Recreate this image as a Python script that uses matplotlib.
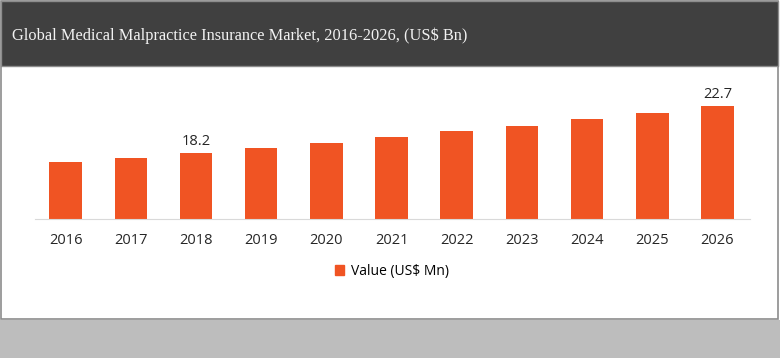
import matplotlib.pyplot as plt
from matplotlib.patches import Rectangle, Patch

# значения рынка по годам (US$ Bn)
years = ['2016', '2017', '2018', '2019', '2020', '2021', '2022', '2023', '2024', '2025', '2026']
values = [17.34, 17.72, 18.2, 18.65, 19.15, 19.73, 20.3, 20.78, 21.42, 22.03, 22.7]
labeled = {'2018': '18.2', '2026': '22.7'}

bar_color = '#F05423'

fig = plt.figure(figsize=(7.8, 3.58), dpi=100)

# рамка, шапка и нижняя полоса
fig.patches.append(Rectangle((0.0, 0.0), 1.0, 0.106, transform=fig.transFigure,
                             facecolor='#bdbdbd', edgecolor='none', zorder=0))
fig.patches.append(Rectangle((0.0015, 0.109), 0.996, 0.888, transform=fig.transFigure,
                             facecolor='white', edgecolor='#8c8c8c', lw=1.2, zorder=0))
fig.patches.append(Rectangle((0.0015, 0.8156), 0.996, 0.1814, transform=fig.transFigure,
                             facecolor='#404040', edgecolor='#8c8c8c', lw=1.0, zorder=1))
fig.text(12 / 780, 1 - 36 / 358, 'Global Medical Malpractice Insurance Market, 2016-2026, (US$ Bn)',
         family='Liberation Serif', fontsize=11.8, color='#f2f2f2', va='center', ha='left')

ax = fig.add_axes([35 / 780, 1 - 219 / 358, 715 / 780, 139 / 358])
ax.set_zorder(3)
ax.patch.set_alpha(0)
x = range(len(years))
bars = ax.bar(x, values, width=0.5, color=bar_color, zorder=2)
ax.set_xlim(-0.47, 10.5)
ax.set_ylim(11.88, 25.18)

for i, y in enumerate(years):
    if y in labeled:
        ax.text(i, values[i] + 0.4, labeled[y], ha='center', va='bottom',
                family='Open Sans', fontsize=10.5, color='#262626')

ax.set_xticks(list(x))
ax.set_xticklabels(years, family='Open Sans', fontsize=10.5, color='#262626')
ax.tick_params(axis='x', length=0, pad=10)
ax.set_yticks([])
for s in ['top', 'left', 'right']:
    ax.spines[s].set_visible(False)
ax.spines['bottom'].set_color('#d9d9d9')

leg = fig.legend(handles=[Patch(color=bar_color, label='Value (US$ Mn)')],
                 loc='center', bbox_to_anchor=(392 / 780, 1 - 271 / 358), frameon=False,
                 handlelength=0.7, handleheight=0.7, handletextpad=0.5,
                 prop={'family': 'Open Sans', 'size': 10})
leg.set_zorder(4)

fig.savefig('out.png', dpi=100)
